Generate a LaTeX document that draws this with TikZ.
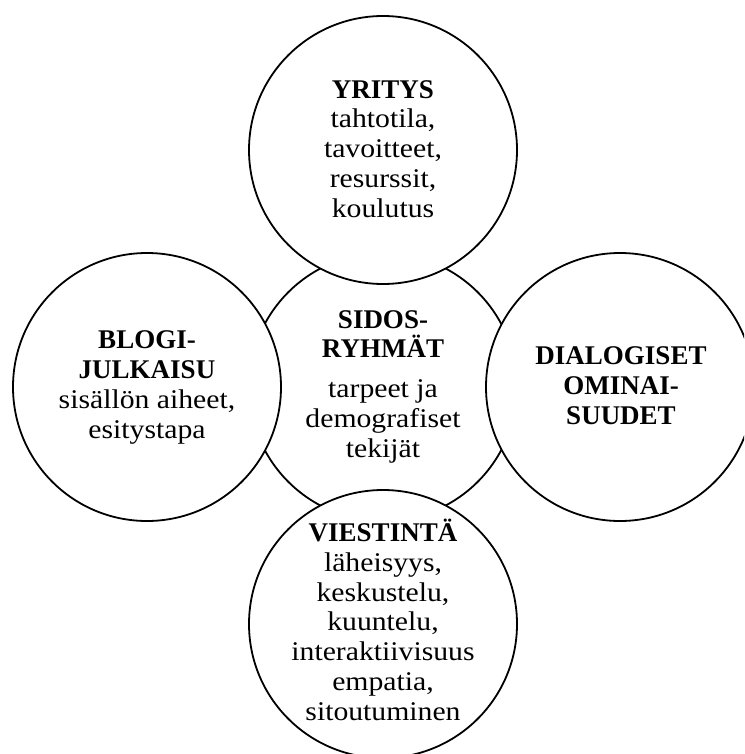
\documentclass[tikz,border=0pt]{standalone}
\usepackage{fontspec}
\setmainfont{Liberation Serif}
\newfontfamily\bodyfont{Liberation Serif}[FakeStretch=1.1]
\newcommand\headline[1]{{\bfseries\fontspec{Liberation Serif}#1}}
\begin{document}
\begin{tikzpicture}[x=1pt,y=-1pt,
  bubble/.style={circle,draw=black,line width=1.8pt,fill=white,
    minimum size=268pt,inner sep=0pt},
  label/.style={align=center,anchor=base,inner sep=0pt,
    font=\fontsize{27}{29.7}\selectfont\bodyfont}]
\useasboundingbox (0,0) rectangle (744,754);
\clip (0,0) rectangle (744,754);

% central circle first, the four outer circles cover it
\node[bubble] (core) at (383,387) {};
\node[bubble] (top) at (383,150) {};
\node[bubble] (left) at (147,387) {};
\node[bubble] (right) at (620,387) {};
\node[bubble] (bottom) at (383,624) {};

% labels are placed by the baseline of their last line
\node[label] (coretext) at (383,457)
  {\headline{SIDOS-}\\ \headline{RYHMÄT}\\[10pt]
   tarpeet ja\\ demografiset\\ tekijät};
\node[label] (toptext) at (383,217)
  {\headline{YRITYS}\\
   tahtotila,\\ tavoitteet,\\ resurssit,\\ koulutus};
\node[label] (lefttext) at (147,438)
  {\headline{BLOGI-}\\ \headline{JULKAISU}\\
   sisällön aiheet,\\ esitystapa};
\node[label] (righttext) at (621,424)
  {\headline{DIALOGISET}\\ \headline{OMINAI-}\\ \headline{SUUDET}};
\node[label] (bottomtext) at (383,720)
  {\headline{VIESTINTÄ}\\
   läheisyys,\\ keskustelu,\\ kuuntelu,\\ interaktiivisuus\\
   empatia,\\ sitoutuminen};
\end{tikzpicture}
\end{document}
